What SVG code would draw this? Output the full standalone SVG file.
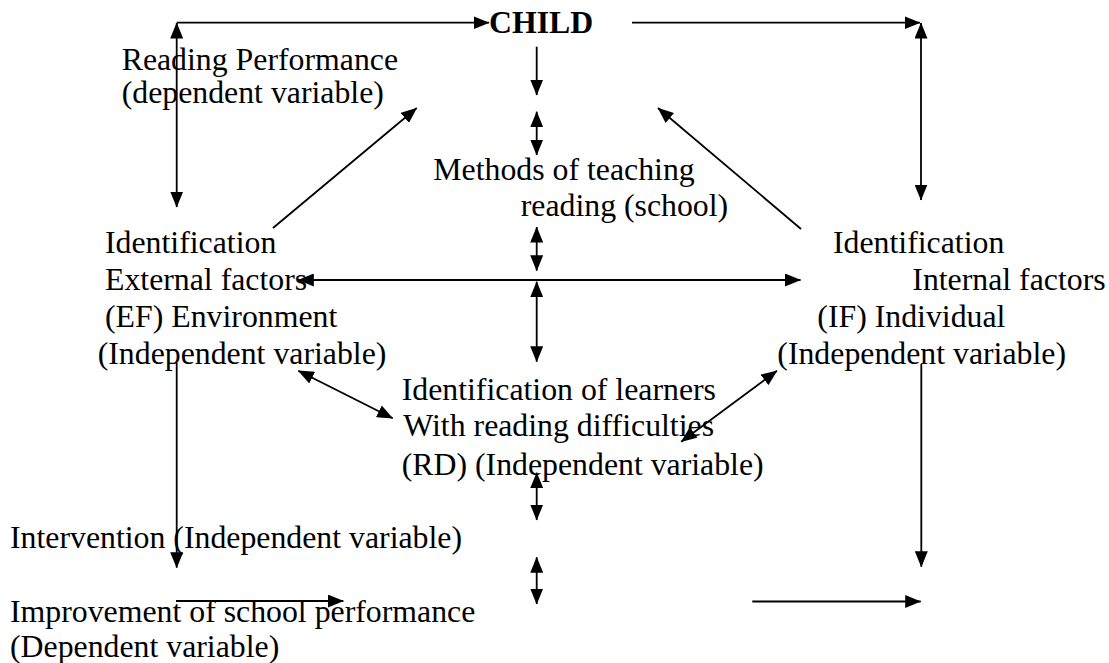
<svg xmlns="http://www.w3.org/2000/svg" width="1109" height="663" viewBox="0 0 1109 663">
<style>
  text { font-family: "Liberation Serif", "Times New Roman", serif; font-size: 31.8px; fill: #000; }
  .bold { font-weight: bold; }
  .c { fill: none; stroke: #000; stroke-width: 1.8; }
  .a { marker-end: url(#ah); }
  .d { marker-start: url(#ahs); marker-end: url(#ah); }
</style>
<defs>
  <marker id="ah" markerUnits="userSpaceOnUse" markerWidth="16" markerHeight="13" refX="15.5" refY="6.5" orient="auto">
    <path d="M0,0 L16,6.5 L0,13 z" fill="#000"/>
  </marker>
  <marker id="ahs" markerUnits="userSpaceOnUse" markerWidth="16" markerHeight="13" refX="15.5" refY="6.5" orient="auto-start-reverse">
    <path d="M0,0 L16,6.5 L0,13 z" fill="#000"/>
  </marker>
</defs>
<rect width="1109" height="663" fill="#fff"/>

<g id="connectors">
  <line class="c a" x1="176.7" y1="22.7" x2="489" y2="22.7"/>
  <line class="c d" x1="176.7" y1="23" x2="176.7" y2="207"/>
  <line class="c a" x1="632" y1="22.7" x2="920" y2="22.7"/>
  <line class="c d" x1="921" y1="23" x2="921" y2="200"/>
  <line class="c a" x1="536.7" y1="46.7" x2="536.7" y2="95"/>
  <line class="c d" x1="536.7" y1="111.7" x2="536.7" y2="155"/>
  <line class="c a" x1="273" y1="228" x2="416.7" y2="108"/>
  <line class="c a" x1="801" y1="229" x2="658" y2="108"/>
  <line class="c d" x1="536.7" y1="227" x2="536.7" y2="270.7"/>
  <line class="c d" x1="298.3" y1="280" x2="800.5" y2="280"/>
  <line class="c d" x1="536.7" y1="281.7" x2="536.7" y2="361.7"/>
  <line class="c d" x1="298.3" y1="370.7" x2="392.7" y2="418.3"/>
  <line class="c d" x1="681.2" y1="441.7" x2="777" y2="370.7"/>
  <line class="c a" x1="176.7" y1="363" x2="176.7" y2="567.7"/>
  <line class="c a" x1="921.3" y1="364" x2="921.3" y2="566.7"/>
  <line class="c d" x1="536.7" y1="472.7" x2="536.7" y2="520"/>
  <line class="c d" x1="536.7" y1="557.3" x2="536.7" y2="604"/>
  <line class="c a" x1="176" y1="601" x2="343.3" y2="601"/>
  <line class="c a" x1="752.3" y1="601.5" x2="920.7" y2="601.5"/>
</g>

<g id="child">
  <text class="bold" x="489" y="33">CHILD</text>
</g>
<g id="reading-performance">
  <text x="121.7" y="70">Reading Performance</text>
  <text x="121.7" y="103">(dependent variable)</text>
</g>
<g id="methods">
  <text x="433.3" y="180">Methods of teaching</text>
  <text x="520.7" y="216">reading (school)</text>
</g>
<g id="external-factors">
  <text x="105" y="253">Identification</text>
  <text x="105" y="290">External factors</text>
  <text x="105" y="327">(EF) Environment</text>
  <text x="97.7" y="364">(Independent variable)</text>
</g>
<g id="internal-factors">
  <text x="833" y="253">Identification</text>
  <text x="912.3" y="290">Internal factors</text>
  <text x="817.3" y="327">(IF) Individual</text>
  <text x="777.3" y="364">(Independent variable)</text>
</g>
<g id="reading-difficulties">
  <text x="401.7" y="400">Identification of learners</text>
  <text x="403.3" y="436">With reading difficulties</text>
  <text x="401.7" y="475">(RD) (Independent variable)</text>
</g>
<g id="intervention">
  <text x="10" y="548">Intervention (Independent variable)</text>
</g>
<g id="improvement">
  <text x="10" y="622">Improvement of school performance</text>
  <text x="10" y="656.5">(Dependent variable)</text>
</g>
</svg>
